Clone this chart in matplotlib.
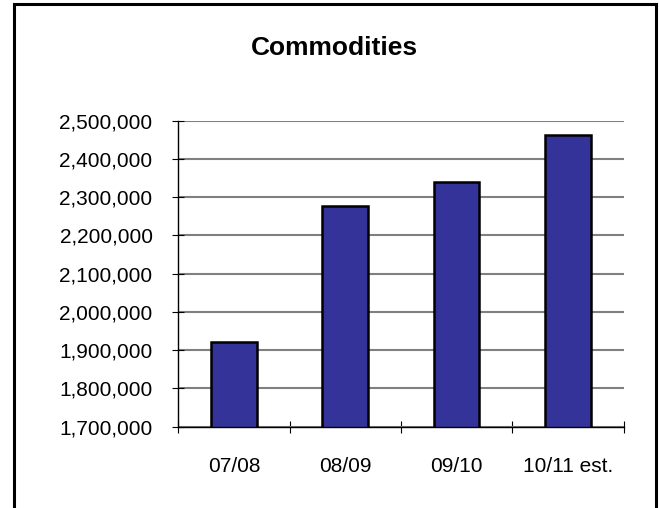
import matplotlib
matplotlib.use("Agg")
import matplotlib.pyplot as plt
from matplotlib.patches import Rectangle
from matplotlib.ticker import FuncFormatter, FixedLocator

categories = ["07/08", "08/09", "09/10", "10/11 est."]
values = [1920700, 2276700, 2339500, 2462600]
y_ticks = [1700000, 1800000, 1900000, 2000000, 2100000, 2200000, 2300000, 2400000, 2500000]

plt.rcParams["font.family"] = ["Liberation Sans", "DejaVu Sans"]

W, H, DPI = 659, 508, 100
fig = plt.figure(figsize=(W / DPI, H / DPI), dpi=DPI)
fig.patch.set_facecolor("white")

# outer chart frame (bottom edge runs past the canvas)
fig.add_artist(Rectangle((14 / W, -0.05), (655.5 - 14) / W, 1.05 - 4 / H,
                         transform=fig.transFigure, fill=False,
                         edgecolor="black", linewidth=2.2))

left, right, top, bottom = 178.3, 623.5, 120.7, 426.7
ax = fig.add_axes([left / W, (H - bottom) / H, (right - left) / W, (bottom - top) / H])

x = list(range(len(categories)))
ax.bar(x, values, width=0.41, color="#333399", edgecolor="black", linewidth=1.8, zorder=3)

ax.set_xlim(-0.5, len(categories) - 0.5)
ax.set_ylim(y_ticks[0], y_ticks[-1])
ax.set_yticks(y_ticks)
ax.yaxis.set_major_formatter(FuncFormatter(lambda v, p: f"{int(v):,}"))

# category boundaries carry the tick marks, labels sit at the bar centres
ax.xaxis.set_major_locator(FixedLocator([i - 0.5 for i in range(len(categories) + 1)]))
ax.xaxis.set_minor_locator(FixedLocator(x))
ax.set_xticklabels([], minor=False)
ax.set_xticklabels(categories, minor=True)
ax.tick_params(axis="x", which="major", direction="inout", length=9, width=0.8, color="black")
ax.tick_params(axis="x", which="minor", length=0, pad=22, labelsize=15)
ax.tick_params(axis="y", direction="inout", length=9, width=0.8, color="black",
               pad=14, labelsize=15)

ax.grid(axis="y", color="#808080", linewidth=1.5, zorder=0)
ax.set_axisbelow(True)
for side in ("top", "right"):
    ax.spines[side].set_visible(False)
for side in ("left", "bottom"):
    ax.spines[side].set_color("black")
    ax.spines[side].set_linewidth(1.0)
    ax.spines[side].set_zorder(4)

fig.text(334 / W, 1 - 48 / H, "Commodities", ha="center", va="center",
         fontsize=19, fontweight="bold")

fig.savefig("out.png", dpi=DPI)
